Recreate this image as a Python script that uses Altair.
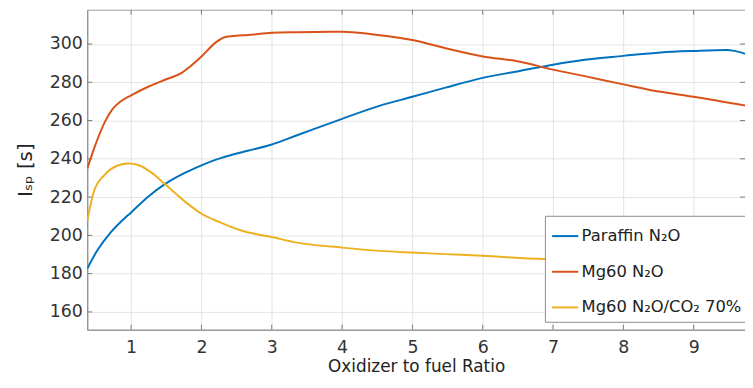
import altair as alt
import pandas as pd

# ---- data ----
paraffin_x = [0.376, 0.52, 0.71, 0.85, 1.0, 1.25, 1.48, 1.77, 2.0, 2.24, 2.45, 2.66, 3.0, 3.36, 4.0, 4.54, 5.0, 5.47, 6.0, 6.51, 7.0, 7.45, 8.0, 8.53, 9.0, 9.47, 9.58, 9.73]
paraffin_y = [182.6, 192.2, 201.6, 207.0, 212.0, 220.5, 226.8, 232.8, 236.6, 240.0, 242.3, 244.2, 247.5, 252.3, 260.9, 267.8, 272.4, 277.2, 282.3, 285.8, 289.2, 291.8, 293.8, 295.6, 296.4, 296.9, 296.4, 294.9]

mg60_x = [0.376, 0.47, 0.62, 0.73, 0.85, 1.0, 1.25, 1.51, 1.72, 1.84, 2.0, 2.21, 2.33, 2.49, 2.66, 3.0, 3.36, 4.0, 4.54, 5.0, 5.47, 6.0, 6.51, 7.0, 7.45, 8.0, 8.53, 9.0, 9.73]
mg60_y = [234.9, 245.1, 258.8, 265.7, 270.0, 273.2, 277.8, 281.7, 284.9, 288.3, 293.5, 301.0, 303.5, 304.3, 304.7, 305.9, 306.2, 306.4, 304.6, 302.1, 297.8, 293.5, 290.9, 286.6, 283.2, 278.9, 275.0, 272.4, 267.8]

co2_x = [0.376, 0.47, 0.62, 0.80, 0.96, 1.1, 1.3, 1.48, 1.77, 2.0, 2.24, 2.59, 3.0, 3.36, 4.0, 4.54, 5.0, 5.47, 6.0, 6.87, 7.5, 8.0, 8.5, 9.0, 9.73]
co2_y = [207.5, 222.9, 231.5, 236.4, 237.6, 236.8, 232.5, 226.8, 217.5, 211.3, 207.2, 202.3, 199.1, 196.2, 193.6, 191.9, 191.0, 190.2, 189.3, 187.6, 187.2, 186.9, 186.7, 186.5, 186.3]

series_names = ["Paraffin N\u2082O", "Mg60 N\u2082O", "Mg60 N\u2082O/CO\u2082 70%"]
series_colors = ["#0072BD", "#D95319", "#EDB120"]

x_ticks = [1, 2, 3, 4, 5, 6, 7, 8, 9]
y_ticks = [160, 180, 200, 220, 240, 260, 280, 300]

rows = []
for name, xs, ys in zip(series_names, [paraffin_x, mg60_x, co2_x], [paraffin_y, mg60_y, co2_y]):
    for i, (xv, yv) in enumerate(zip(xs, ys)):
        rows.append({"series": name, "x": xv, "y": yv, "order": i})
df = pd.DataFrame(rows)

FONT = "DejaVu Sans"
W, H = 664, 323
x_scale = alt.Scale(domain=[0.376, 9.73], nice=False, zero=False)
y_scale = alt.Scale(domain=[150.7, 317.9], nice=False, zero=False)

lines = alt.Chart(df).mark_line(strokeWidth=2, interpolate="monotone", clip=True).encode(
    x=alt.X("x:Q", scale=x_scale,
            axis=alt.Axis(values=x_ticks, title="Oxidizer to fuel Ratio", format="d",
                          labelPadding=9, titlePadding=3, titleFontSize=17)),
    y=alt.Y("y:Q", scale=y_scale,
            axis=alt.Axis(values=y_ticks, title="I\u209b\u209a [s]", labelPadding=5,
                          titlePadding=14, titleFontSize=20)),
    color=alt.Color("series:N",
                    scale=alt.Scale(domain=series_names, range=series_colors),
                    sort=series_names,
                    legend=alt.Legend(title=None, orient="none", legendX=462, legendY=208,
                                      symbolType="stroke", symbolSize=700, symbolStrokeWidth=2,
                                      labelFontSize=16.5, labelFont=FONT, labelColor="#222",
                                      labelLimit=400,
                                      labelOffset=2, rowPadding=13, padding=6,
                                      strokeColor="#8c8c8c", fillColor="white", cornerRadius=0)),
    order="order:Q",
)

# inward tick marks (MATLAB box style)
xt = pd.DataFrame({"x": x_ticks})
yt = pd.DataFrame({"y": y_ticks})
tick_bottom = alt.Chart(xt).mark_rule(color="#7a7a7a", strokeWidth=1).encode(
    x="x:Q", y=alt.value(H), y2=alt.value(H - 5))
tick_top = alt.Chart(xt).mark_rule(color="#7a7a7a", strokeWidth=1).encode(
    x="x:Q", y=alt.value(0), y2=alt.value(5))
tick_left = alt.Chart(yt).mark_rule(color="#7a7a7a", strokeWidth=1).encode(
    y="y:Q", x=alt.value(0), x2=alt.value(5))
tick_right = alt.Chart(yt).mark_rule(color="#7a7a7a", strokeWidth=1).encode(
    y="y:Q", x=alt.value(W), x2=alt.value(W - 5))

chart = alt.layer(tick_bottom, tick_top, tick_left, tick_right, lines).properties(
    width=W, height=H,
    autosize=alt.AutoSizeParams(type="none"),
    padding={"left": 80, "top": 0, "right": 0, "bottom": 49},
    background="white",
).configure_view(
    stroke="#a0a0a0", strokeWidth=1
).configure_axis(
    labelFont=FONT, titleFont=FONT, labelFontSize=17.5, titleFontSize=17.5,
    labelColor="#333", titleColor="#222", titleFontWeight="normal",
    grid=True, gridColor="#e4e4e4", gridWidth=1,
    domainColor="#8c8c8c", tickSize=0,
)

chart.save("out.html", embed_options={"renderer": "svg", "actions": False})
